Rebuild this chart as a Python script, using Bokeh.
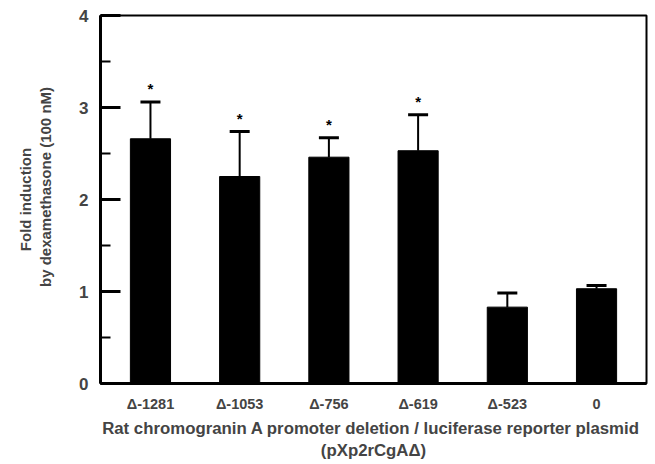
from bokeh.plotting import figure
from bokeh.models import ColumnDataSource, Whisker, TeeHead, FactorRange, FixedTicker
from bokeh.embed import file_html
from bokeh.resources import INLINE
from bokeh.core.properties import value

categories = ["Δ-1281", "Δ-1053", "Δ-756", "Δ-619", "Δ-523", "0"]
fold = [2.66, 2.25, 2.46, 2.53, 0.83, 1.03]
sem = [0.40, 0.49, 0.21, 0.39, 0.155, 0.035]
marks = ["*", "*", "*", "*", "", ""]
y_ticks = [0, 1, 2, 3, 4]
y_minor = [0.5, 1.5, 2.5, 3.5]

upper = [f + s for f, s in zip(fold, sem)]
src = ColumnDataSource(dict(x=categories, top=fold, upper=upper, mark=marks))

FONT = "Liberation Sans"

p = figure(width=650, height=463, output_backend="svg", toolbar_location=None,
           x_range=FactorRange(*categories, range_padding=0.02),
           y_range=(0, 4),
           min_border_left=100, min_border_right=4, min_border_top=15, min_border_bottom=79)

p.vbar(x="x", top="top", width=0.45, bottom=0, source=src,
       fill_color="black", line_color="black")

w = Whisker(base="x", upper="upper", lower="top", source=src,
            line_color="black", line_width=2,
            upper_head=TeeHead(size=20, line_width=3, line_color="black"),
            lower_head=None)
p.add_layout(w)

p.text(x="x", y="upper", text="mark", source=src, text_align="center",
       text_baseline="middle", y_offset=-13, text_font=value(FONT),
       text_font_style="bold", text_font_size="15px", text_color="black")

p.xgrid.visible = False
p.ygrid.visible = False
p.outline_line_color = "black"
p.outline_line_width = 2
p.outline_line_alpha = 1

ya = p.yaxis[0]
ya.ticker = FixedTicker(ticks=y_ticks, minor_ticks=y_minor)
ya.major_tick_in = 20
ya.major_tick_out = 0
ya.minor_tick_in = 10
ya.minor_tick_out = 0
ya.major_tick_line_width = 3
ya.minor_tick_line_width = 2
ya.axis_line_width = 3
ya.major_label_text_font = FONT
ya.major_label_text_font_style = "bold"
ya.major_label_text_font_size = "17px"
ya.major_label_standoff = 12
ya.axis_label = "Fold induction\n" + "\u00a0" * 6 + "by dexamethasone (100 nM)"
ya.axis_label_text_font = FONT
ya.axis_label_text_font_style = "bold"
ya.axis_label_text_font_size = "15px"
ya.axis_label_standoff = 22

xa = p.xaxis[0]
xa.major_tick_line_color = None
xa.minor_tick_line_color = None
xa.axis_line_width = 3
xa.major_label_text_font = FONT
xa.major_label_text_font_style = "bold"
xa.major_label_text_font_size = "14.5px"
xa.major_label_standoff = 6
xa.axis_label = "Rat chromogranin A promoter deletion /  luciferase reporter plasmid\n(pXp2rCgAΔ)"
xa.axis_label_text_font = FONT
xa.axis_label_text_font_style = "bold"
xa.axis_label_text_font_size = "16.8px"
xa.axis_label_standoff = 4

p.background_fill_color = "white"
p.border_fill_color = "white"

open("out.html", "w").write(file_html(p, INLINE))
